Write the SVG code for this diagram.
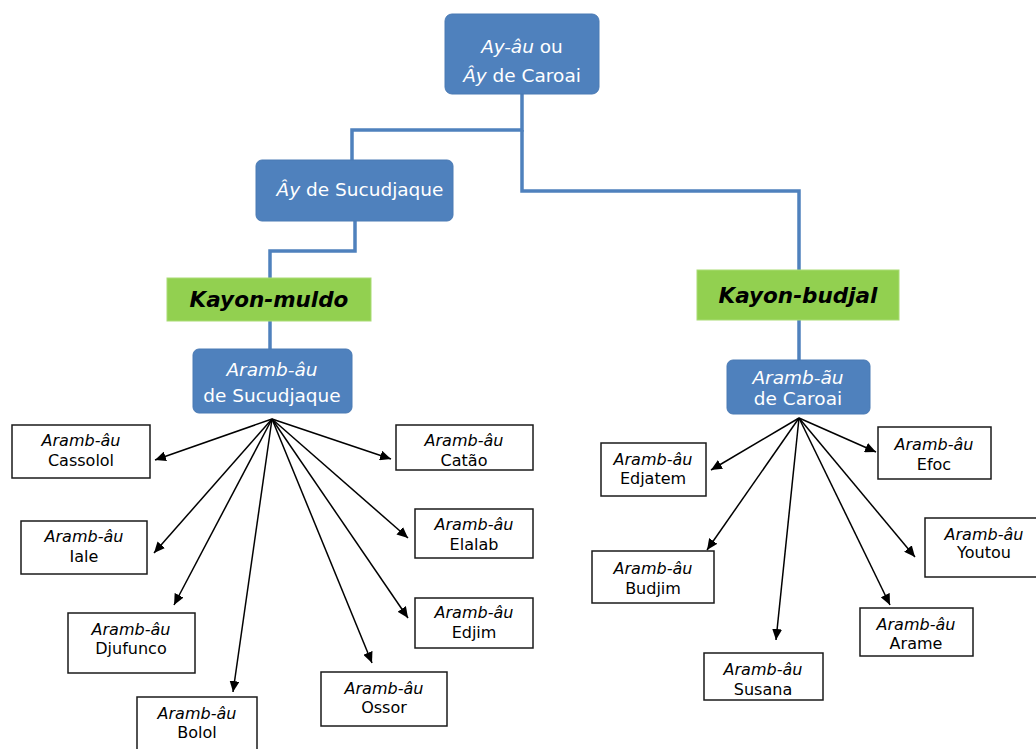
<svg xmlns="http://www.w3.org/2000/svg" width="1036" height="749" viewBox="0 0 1036 749">
  <defs>
    <style>
      .blue { fill: #4f81bd; stroke: #4a7ab4; stroke-width: 1; }
      .green { fill: #92d050; stroke: #a9dc74; stroke-width: 1; }
      .leaf { fill: #ffffff; stroke: #1a1a1a; stroke-width: 1.5; }
      .tree { fill: none; stroke: #4f81bd; stroke-width: 3.5; }
      .arrow { fill: none; stroke: #000000; stroke-width: 1.5; marker-end: url(#head); }
      text { font-family: "DejaVu Sans", Verdana, sans-serif; text-anchor: middle; }
      .bt { fill: #ffffff; font-size: 18.5px; }
      .gt { fill: #000000; font-size: 21.5px; font-weight: bold; font-style: italic; }
      .lt { fill: #000000; font-size: 16px; }
      .it { font-style: italic; }
    </style>
    <marker id="head" viewBox="0 0 11 10" refX="11" refY="5" markerWidth="11" markerHeight="10" markerUnits="userSpaceOnUse" orient="auto">
      <path d="M0,0 L11,5 L0,10 Z" fill="#000000"/>
    </marker>
  </defs>

  <!-- hierarchy connectors -->
  <g id="connectors">
    <path class="tree" d="M522,94 V130 H352 V160"/>
    <path class="tree" d="M522,130 V191 H799 V270"/>
    <path class="tree" d="M355,221 V251 H270 V278"/>
    <path class="tree" d="M270,321 V349"/>
    <path class="tree" d="M799,320 V360"/>
    <!-- left fan -->
    <line class="arrow" x1="272" y1="419" x2="155" y2="460"/>
    <line class="arrow" x1="272" y1="419" x2="154" y2="553"/>
    <line class="arrow" x1="272" y1="419" x2="174" y2="605"/>
    <line class="arrow" x1="272" y1="419" x2="233" y2="692"/>
    <line class="arrow" x1="272" y1="419" x2="372" y2="663"/>
    <line class="arrow" x1="272" y1="419" x2="408" y2="618"/>
    <line class="arrow" x1="272" y1="419" x2="408" y2="538"/>
    <line class="arrow" x1="272" y1="419" x2="391" y2="459"/>
    <!-- right fan -->
    <line class="arrow" x1="799" y1="418" x2="711" y2="470"/>
    <line class="arrow" x1="799" y1="418" x2="707" y2="550"/>
    <line class="arrow" x1="799" y1="418" x2="776" y2="640"/>
    <line class="arrow" x1="799" y1="418" x2="890" y2="605"/>
    <line class="arrow" x1="799" y1="418" x2="915" y2="557"/>
    <line class="arrow" x1="799" y1="418" x2="876" y2="452"/>
  </g>

  <g id="root">
    <rect class="blue" x="445" y="14" width="154" height="80" rx="7"/>
    <text class="bt" x="522" y="53"><tspan class="it">Ay-âu</tspan> ou</text>
    <text class="bt" x="522" y="82"><tspan class="it">Ây</tspan> de Caroai</text>
  </g>

  <g id="ay-sucudjaque">
    <rect class="blue" x="256" y="160" width="197" height="61" rx="6"/>
    <text class="bt" x="360" y="196"><tspan class="it">Ây</tspan> de Sucudjaque</text>
  </g>

  <g id="kayon-muldo">
    <rect class="green" x="167" y="278" width="204" height="43"/>
    <text class="gt" x="269" y="307">Kayon-muldo</text>
  </g>

  <g id="kayon-budjal">
    <rect class="green" x="697" y="270" width="202" height="50"/>
    <text class="gt" x="798" y="303">Kayon-budjal</text>
  </g>

  <g id="aramb-sucudjaque">
    <rect class="blue" x="193" y="349" width="159" height="64" rx="6"/>
    <text class="bt" x="272" y="376"><tspan class="it">Aramb-âu</tspan></text>
    <text class="bt" x="272" y="402">de Sucudjaque</text>
  </g>

  <g id="aramb-caroai">
    <rect class="blue" x="727" y="360" width="143" height="54" rx="6"/>
    <text class="bt" x="798" y="384"><tspan class="it">Aramb-ãu</tspan></text>
    <text class="bt" x="798" y="405">de Caroai</text>
  </g>

  <!-- left leaves -->
  <g id="cassolol">
    <rect class="leaf" x="12" y="425" width="138" height="53"/>
    <text class="lt" x="81" y="446"><tspan class="it">Aramb-âu</tspan></text>
    <text class="lt" x="81" y="466">Cassolol</text>
  </g>
  <g id="iale">
    <rect class="leaf" x="21" y="521" width="126" height="53"/>
    <text class="lt" x="84" y="542"><tspan class="it">Aramb-âu</tspan></text>
    <text class="lt" x="84" y="562">Iale</text>
  </g>
  <g id="djufunco">
    <rect class="leaf" x="68" y="613" width="127" height="60"/>
    <text class="lt" x="131" y="635"><tspan class="it">Aramb-âu</tspan></text>
    <text class="lt" x="131" y="654">Djufunco</text>
  </g>
  <g id="bolol">
    <rect class="leaf" x="137" y="697" width="120" height="55"/>
    <text class="lt" x="197" y="719"><tspan class="it">Aramb-âu</tspan></text>
    <text class="lt" x="197" y="738">Bolol</text>
  </g>
  <g id="ossor">
    <rect class="leaf" x="321" y="672" width="126" height="54"/>
    <text class="lt" x="384" y="694"><tspan class="it">Aramb-âu</tspan></text>
    <text class="lt" x="384" y="713">Ossor</text>
  </g>
  <g id="edjim">
    <rect class="leaf" x="415" y="598" width="118" height="50"/>
    <text class="lt" x="474" y="618"><tspan class="it">Aramb-âu</tspan></text>
    <text class="lt" x="474" y="638">Edjim</text>
  </g>
  <g id="elalab">
    <rect class="leaf" x="415" y="509" width="118" height="49"/>
    <text class="lt" x="474" y="530"><tspan class="it">Aramb-âu</tspan></text>
    <text class="lt" x="474" y="550">Elalab</text>
  </g>
  <g id="catao">
    <rect class="leaf" x="396" y="425" width="137" height="45"/>
    <text class="lt" x="464" y="446"><tspan class="it">Aramb-âu</tspan></text>
    <text class="lt" x="464" y="466">Catão</text>
  </g>

  <!-- right leaves -->
  <g id="edjatem">
    <rect class="leaf" x="601" y="443" width="105" height="53"/>
    <text class="lt" x="653" y="465"><tspan class="it">Aramb-âu</tspan></text>
    <text class="lt" x="653" y="484">Edjatem</text>
  </g>
  <g id="budjim">
    <rect class="leaf" x="592" y="551" width="122" height="52"/>
    <text class="lt" x="653" y="574"><tspan class="it">Aramb-âu</tspan></text>
    <text class="lt" x="653" y="594">Budjim</text>
  </g>
  <g id="susana">
    <rect class="leaf" x="704" y="653" width="119" height="47"/>
    <text class="lt" x="763" y="675"><tspan class="it">Aramb-âu</tspan></text>
    <text class="lt" x="763" y="695">Susana</text>
  </g>
  <g id="arame">
    <rect class="leaf" x="860" y="608" width="113" height="48"/>
    <text class="lt" x="916" y="630"><tspan class="it">Aramb-âu</tspan></text>
    <text class="lt" x="916" y="649">Arame</text>
  </g>
  <g id="youtou">
    <rect class="leaf" x="925" y="518" width="113" height="59"/>
    <text class="lt" x="984" y="540"><tspan class="it">Aramb-âu</tspan></text>
    <text class="lt" x="984" y="558">Youtou</text>
  </g>
  <g id="efoc">
    <rect class="leaf" x="878" y="427" width="113" height="52"/>
    <text class="lt" x="934" y="450"><tspan class="it">Aramb-âu</tspan></text>
    <text class="lt" x="934" y="470">Efoc</text>
  </g>
</svg>
